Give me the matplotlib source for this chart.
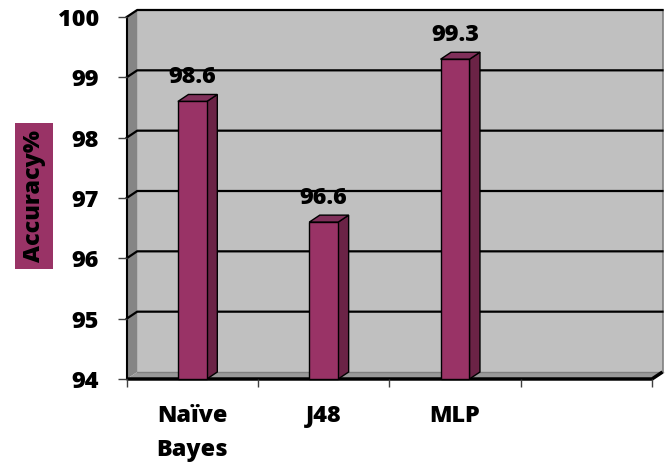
import matplotlib
matplotlib.use('Agg')
import matplotlib.pyplot as plt
from matplotlib.patches import Polygon, Rectangle

categories = ['Naïve\nBayes', 'J48', 'MLP', '']
values = [98.6, 96.6, 99.3]
value_labels = ['98.6', '96.6', '99.3']
yticks = [94, 95, 96, 97, 98, 99, 100]
ylabel = 'Accuracy%'

plt.rcParams['font.family'] = ['Open Sans', 'DejaVu Sans']
FS = 16.8
FW = 800

W, H = 665, 466
fig = plt.figure(figsize=(W / 100, H / 100), dpi=100)
x0px, x1px, y0px, y1px = 126.7, 652, 379, 17
ax = fig.add_axes([x0px / W, (H - y0px) / H, (x1px - x0px) / W, (y0px - y1px) / H])
ymin, ymax = yticks[0], yticks[-1]
n = len(categories)
ax.set_xlim(0, n)
ax.set_ylim(ymin, ymax)
for s in ax.spines.values():
    s.set_visible(False)
ax.patch.set_visible(False)

DX = 0.08   # depth offset in category units
DY = 0.116  # depth offset in value units

# walls
ax.add_patch(Rectangle((DX, ymin + DY), n, ymax - ymin, fc='#C0C0C0', ec='none', clip_on=False, zorder=0))
ax.add_patch(Polygon([(0, ymin), (DX, ymin + DY), (DX, ymax + DY), (0, ymax)],
                     fc='#858585', ec='none', clip_on=False, zorder=0.5))
ax.add_patch(Polygon([(0, ymin), (n, ymin), (n + DX, ymin + DY), (DX, ymin + DY)],
                     fc='#999999', ec='none', clip_on=False, zorder=0.5))
ax.plot([n + DX, n + DX], [ymin + DY, ymax + DY], color='#808080', lw=1.2, clip_on=False, zorder=1)
ax.plot([DX, n + DX], [ymin + DY, ymin + DY], color='#808080', lw=1.0, clip_on=False, zorder=1)
for y in yticks[1:]:
    ax.plot([0, DX, n + DX], [y, y + DY, y + DY], color='black', lw=1.6, clip_on=False, zorder=1)
ax.plot([0, 0], [ymin, ymax], color='black', lw=1.5, clip_on=False, zorder=1.5)
ax.plot([0, n, n + DX], [ymin, ymin, ymin + DY], color='black', lw=2.5, clip_on=False, zorder=1.5,
        solid_capstyle='butt')

# bars
bw = 0.22
for i, (v, lab) in enumerate(zip(values, value_labels)):
    xa = i + 0.5 - bw / 2
    xb = i + 0.5 + bw / 2
    ax.add_patch(Polygon([(xb, ymin), (xb + DX, ymin + DY), (xb + DX, v + DY), (xb, v)],
                         fc='#6B2346', ec='black', lw=1, clip_on=False, zorder=2))
    ax.add_patch(Polygon([(xa, v), (xb, v), (xb + DX, v + DY), (xa + DX, v + DY)],
                         fc='#80305A', ec='black', lw=1, clip_on=False, zorder=2))
    ax.add_patch(Rectangle((xa, ymin), bw, v - ymin, fc='#993366', ec='black', lw=1,
                           clip_on=False, zorder=3))
    ax.annotate(lab, (i + 0.5, v), xytext=(0, 13), textcoords='offset points',
                ha='center', va='baseline', fontsize=FS, fontweight=FW, zorder=4)

# ticks
ax.set_yticks(yticks)
ax.set_yticklabels([str(t) for t in yticks], fontsize=FS, fontweight=FW)
ax.tick_params(axis='y', direction='out', length=6.5, width=1, color='#404040', pad=13.5)
ax.set_xticks(range(n + 1))
ax.set_xticklabels([])
ax.tick_params(axis='x', which='major', direction='out', length=6, width=1, color='#404040')
ax.set_xticks([i + 0.5 for i in range(n)], minor=True)
ax.set_xticklabels(categories, minor=True, fontsize=FS, fontweight=FW, linespacing=1.55, va='top')
ax.tick_params(axis='x', which='minor', length=0, pad=18)

ax.set_ylabel(ylabel, fontsize=FS, fontweight=FW, color='black', va='center',
              bbox=dict(facecolor='#993366', edgecolor='none', boxstyle='square,pad=0.3'))
ax.yaxis.set_label_coords((33.7 - x0px) / (x1px - x0px), (y0px - 196.3) / (y0px - y1px))

fig.savefig('out.png', dpi=100)
